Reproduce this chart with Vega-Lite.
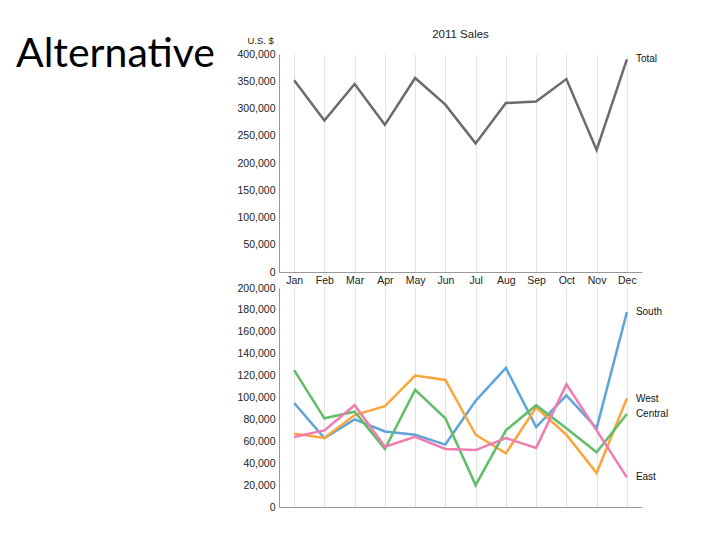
{
  "$schema": "https://vega.github.io/schema/vega-lite/v6.json",
  "padding": {"left": 5, "top": 28, "right": 5, "bottom": 5},
  "background": "white",
  "config": {
    "font": "Liberation Sans",
    "view": {"stroke": null},
    "axis": {"labelFont": "Liberation Sans", "labelFontSize": 10.5, "labelColor": "#222", "domainColor": "#999", "ticks": false, "gridColor": "#e2e2e2", "titleFont": "Liberation Sans", "titleFontWeight": "normal", "titleColor": "#222"}
  },
  "datasets": {
    "total": [
      {"month": "Jan", "series": "Total", "sales": 352000},
      {"month": "Feb", "series": "Total", "sales": 278000},
      {"month": "Mar", "series": "Total", "sales": 345000},
      {"month": "Apr", "series": "Total", "sales": 270000},
      {"month": "May", "series": "Total", "sales": 356000},
      {"month": "Jun", "series": "Total", "sales": 307000},
      {"month": "Jul", "series": "Total", "sales": 236000},
      {"month": "Aug", "series": "Total", "sales": 310000},
      {"month": "Sep", "series": "Total", "sales": 313000},
      {"month": "Oct", "series": "Total", "sales": 354000},
      {"month": "Nov", "series": "Total", "sales": 224000},
      {"month": "Dec", "series": "Total", "sales": 390000}
    ],
    "regions": [
      {"month": "Jan", "region": "South", "sales": 95000},
      {"month": "Feb", "region": "South", "sales": 63000},
      {"month": "Mar", "region": "South", "sales": 80000},
      {"month": "Apr", "region": "South", "sales": 69000},
      {"month": "May", "region": "South", "sales": 66000},
      {"month": "Jun", "region": "South", "sales": 57000},
      {"month": "Jul", "region": "South", "sales": 97000},
      {"month": "Aug", "region": "South", "sales": 127000},
      {"month": "Sep", "region": "South", "sales": 73000},
      {"month": "Oct", "region": "South", "sales": 102000},
      {"month": "Nov", "region": "South", "sales": 72000},
      {"month": "Dec", "region": "South", "sales": 178000},
      {"month": "Jan", "region": "West", "sales": 67000},
      {"month": "Feb", "region": "West", "sales": 63000},
      {"month": "Mar", "region": "West", "sales": 84000},
      {"month": "Apr", "region": "West", "sales": 92000},
      {"month": "May", "region": "West", "sales": 120000},
      {"month": "Jun", "region": "West", "sales": 116000},
      {"month": "Jul", "region": "West", "sales": 66000},
      {"month": "Aug", "region": "West", "sales": 49000},
      {"month": "Sep", "region": "West", "sales": 91000},
      {"month": "Oct", "region": "West", "sales": 66000},
      {"month": "Nov", "region": "West", "sales": 31000},
      {"month": "Dec", "region": "West", "sales": 99000},
      {"month": "Jan", "region": "Central", "sales": 125000},
      {"month": "Feb", "region": "Central", "sales": 81000},
      {"month": "Mar", "region": "Central", "sales": 87000},
      {"month": "Apr", "region": "Central", "sales": 53000},
      {"month": "May", "region": "Central", "sales": 107000},
      {"month": "Jun", "region": "Central", "sales": 81000},
      {"month": "Jul", "region": "Central", "sales": 20000},
      {"month": "Aug", "region": "Central", "sales": 70000},
      {"month": "Sep", "region": "Central", "sales": 93000},
      {"month": "Oct", "region": "Central", "sales": 72000},
      {"month": "Nov", "region": "Central", "sales": 50000},
      {"month": "Dec", "region": "Central", "sales": 85000},
      {"month": "Jan", "region": "East", "sales": 64000},
      {"month": "Feb", "region": "East", "sales": 70000},
      {"month": "Mar", "region": "East", "sales": 93000},
      {"month": "Apr", "region": "East", "sales": 55000},
      {"month": "May", "region": "East", "sales": 64000},
      {"month": "Jun", "region": "East", "sales": 53000},
      {"month": "Jul", "region": "East", "sales": 52000},
      {"month": "Aug", "region": "East", "sales": 63000},
      {"month": "Sep", "region": "East", "sales": 54000},
      {"month": "Oct", "region": "East", "sales": 112000},
      {"month": "Nov", "region": "East", "sales": 70000},
      {"month": "Dec", "region": "East", "sales": 27000}
    ]
  },
  "hconcat": [
    {
      "width": 221,
      "height": 26,
      "data": {"values": [{"t": "Alternative"}]},
      "mark": {"type": "text", "font": "Lato", "fontSize": 41, "align": "center", "baseline": "alphabetic", "color": "#000"},
      "encoding": {"text": {"field": "t"}}
    },
    {
      "spacing": -3,
      "vconcat": [
        {
          "title": {"text": "2011 Sales", "fontSize": 11.5, "fontWeight": "normal", "offset": -5, "color": "#222", "font": "Liberation Sans"},
          "width": 363,
          "height": 218,
          "data": {"name": "total"},
          "encoding": {
            "x": {"field": "month", "type": "ordinal", "sort": ["Jan","Feb","Mar","Apr","May","Jun","Jul","Aug","Sep","Oct","Nov","Dec"],
                  "axis": {"title": null, "labelAngle": 0, "grid": true, "labelPadding": 3}},
            "y": {"field": "sales", "type": "quantitative", "scale": {"domain": [0, 400000]},
                  "axis": {"title": "U.S. $", "titleAngle": 0, "titleAlign": "left", "titleBaseline": "alphabetic", "titleX": -32, "titleY": -11, "titleFontSize": 9.5,
                           "values": [0,50000,100000,150000,200000,250000,300000,350000,400000], "format": ",d", "grid": false, "labelPadding": 4}}
          },
          "layer": [
            {"mark": {"type": "line", "color": "#6b6b6b", "strokeWidth": 2.5}},
            {"transform": [{"filter": "datum.month == 'Dec'"}],
             "mark": {"type": "text", "align": "left", "dx": 9, "fontSize": 10, "color": "#111"},
             "encoding": {"text": {"field": "series"}}}
          ]
        },
        {
          "width": 363,
          "height": 219,
          "data": {"name": "regions"},
          "encoding": {
            "x": {"field": "month", "type": "ordinal", "sort": ["Jan","Feb","Mar","Apr","May","Jun","Jul","Aug","Sep","Oct","Nov","Dec"],
                  "axis": {"title": null, "labels": false, "grid": true}},
            "y": {"field": "sales", "type": "quantitative", "scale": {"domain": [0, 200000]},
                  "axis": {"title": null, "values": [0,20000,40000,60000,80000,100000,120000,140000,160000,180000,200000], "format": ",d", "grid": false, "labelPadding": 4}}
          },
          "layer": [
            {"mark": {"type": "line", "strokeWidth": 2.5},
             "encoding": {"color": {"field": "region", "type": "nominal", "legend": null,
                                    "scale": {"domain": ["South","West","Central","East"], "range": ["#5DA5DA","#FAA43A","#60BD68","#F17CB0"]}}}},
            {"transform": [{"filter": "datum.month == 'Dec'"}],
             "mark": {"type": "text", "align": "left", "dx": 9, "fontSize": 10, "color": "#111"},
             "encoding": {"text": {"field": "region"}}}
          ]
        }
      ]
    }
  ],
  "spacing": 11
}
